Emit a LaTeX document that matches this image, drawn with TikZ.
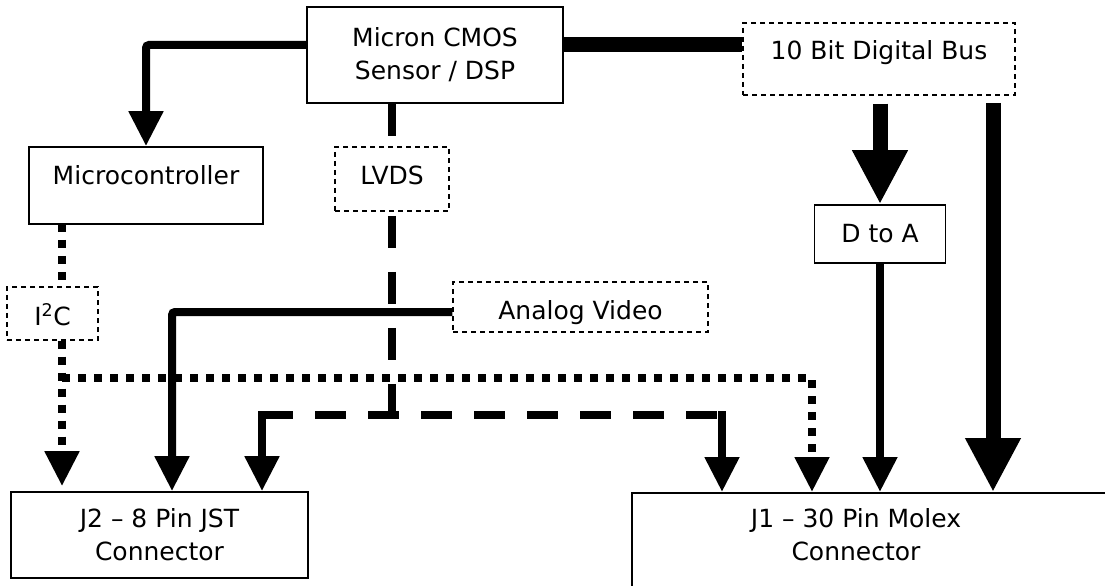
\documentclass[tikz,border=0pt]{standalone}
\usepackage{fontspec}
\setmainfont{DejaVu Sans}
\usetikzlibrary{arrows.meta,calc}
\pgfdeclarelayer{bg}
\pgfsetlayers{bg,main}
\begin{document}
\begin{tikzpicture}[x=1bp,y=-1bp,
  every node/.style={font=\fontsize{25bp}{33bp}\selectfont, align=center, inner sep=0pt},
  solidbox/.style={draw, line width=1.7bp, fill=white},
  dashbox/.style={draw, line width=1.2bp, dash pattern=on 5bp off 4bp, fill=white},
  sigline/.style={line width=8bp, rounded corners=3bp},
  busline/.style={line width=15bp},
  dotline/.style={line width=8bp, dash pattern=on 8bp off 8bp},
  dashline/.style={line width=8bp, dash pattern=on 32bp off 24bp},
  smalltip/.tip={Triangle[width=33bp,length=35bp]},
  bigtip/.tip={Triangle[width=52bp,length=54bp]}
]
\clip (0,0) rectangle (1105,586);
% nodes
\node[solidbox, minimum width=256bp, minimum height=96bp] (micron) at (435,55) {Micron CMOS\\Sensor / DSP};
\node[solidbox, minimum width=234bp, minimum height=77bp, text height=19bp, text depth=20bp] (micro) at (146,185.5) {Microcontroller};
\node[dashbox, minimum width=114bp, minimum height=64bp, text height=19bp, text depth=7bp] (lvds) at (392,179) {LVDS};
\node[dashbox, minimum width=272bp, minimum height=72bp, text height=19bp, text depth=17bp] (bus) at (879,59) {10 Bit Digital Bus};
\node[solidbox, minimum width=131bp, minimum height=58bp, text height=18bp, text depth=0bp] (dtoa) at (880,234) {D to A};
\node[dashbox, minimum width=255bp, minimum height=50bp, text height=24bp, text depth=0bp] (analog) at (580.5,307) {Analog Video};
\node[dashbox, minimum width=91bp, minimum height=53bp, text height=24bp, text depth=0bp] (i2c) at (52.5,313.5) {I\textsuperscript{2}C};
\node[solidbox, minimum width=297bp, minimum height=86bp] (j2) at (159.5,535) {J2 – 8 Pin JST\\Connector};
\node[solidbox, anchor=north west, minimum width=520bp, minimum height=150bp] (J1) at (631,492) {};
\node (J1t) at (856,535) {J1 – 30 Pin Molex\\Connector};
% coordinates
\coordinate (lvdsj) at (392,415);
\coordinate (dl) at (262,415);
\coordinate (dr) at (722,415);
\coordinate (ctop) at (62,224);
\coordinate (dotj) at (62,378);
\coordinate (bustap) at (993,103);
% connectors
\begin{pgfonlayer}{bg}
\draw[dashline] (lvds.north |- micron.south) -- (lvdsj);
\end{pgfonlayer}
\draw[sigline, -{smalltip}] (micron.west |- 0,45) -| (micro.north);
\draw[dashline, dash pattern=on 31bp off 22bp] (dl) -- (dr);
\draw[sigline, -{smalltip}] (dl) ++(0,-4) -- (dl |- j2.north);
\draw[sigline, -{smalltip}] (dr) ++(0,-4) -- (dr |- J1.north);
\draw[busline] (micron.east |- 0,45) -- (bus.west |- 0,45);
\draw[busline, -{bigtip}] ($(bus.south -| dtoa.north)+(0,8)$) -- (dtoa.north);
\draw[busline, -{bigtip}] (bustap) -- (bustap |- J1.north);
\draw[sigline, -{smalltip}] (dtoa.south) -- (dtoa.south |- J1.north);
\draw[sigline] ($(analog.east)+(0,5)$) -- ($(analog.east)+(0,5)$ -| dtoa.south);
\draw[sigline, -{smalltip}] ($(analog.west)+(0,5)$) -| ($(j2.north)+(12.5,0)$);
\draw[dotline] (ctop) -- (ctop |- i2c.north);
\draw[dotline, -{smalltip}] (ctop |- i2c.south) -- ($(ctop |- j2.north)+(0,-5)$);
\draw[dotline, -{smalltip}] (dotj) -| ($(J1.north west)+(181,0)$);
\end{tikzpicture}
\end{document}
